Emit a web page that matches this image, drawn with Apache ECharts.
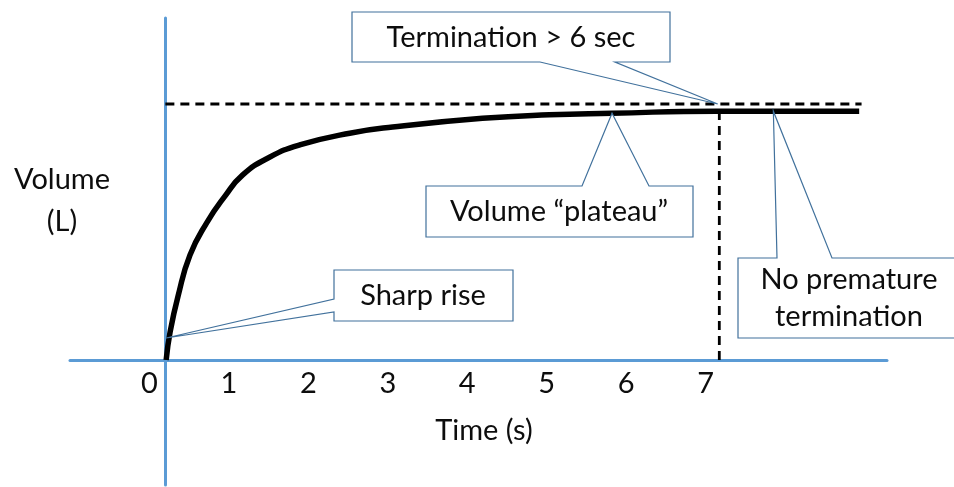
<!DOCTYPE html>
<html>
<head>
<meta charset="utf-8">
<script src="https://cdn.jsdelivr.net/npm/echarts@6/dist/echarts.min.js"></script>
<style>
html,body{margin:0;padding:0;background:#fff;}
#chart{width:954px;height:487px;}
</style>
</head>
<body>
<div id="chart"></div>
<script>
// ---- data ----
var tickValues = [0, 1, 2, 3, 4, 5, 6, 7];
var curveTime = [0.01, 0.06, 0.16, 0.31, 0.52, 0.75, 0.97, 1.31, 1.69, 2.32, 2.86, 3.99, 4.83, 5.62, 6.93, 8.73];
var curveVolume = [0, 0.55, 1.25, 2.05, 2.68, 3.2, 3.61, 3.96, 4.2, 4.43, 4.55, 4.72, 4.79, 4.82, 4.86, 4.86];
var refVolume = 5.0;
var refEndTime = 8.76;
var terminationTime = 6.97;
var terminationTop = 4.86;
var calloutTexts = ['Termination > 6 sec', 'Volume \u201cplateau\u201d', 'Sharp rise', 'No premature\ntermination'];
var calloutTipTime = [6.95, 5.62, 0.01, 7.65];
var calloutTipVolume = [5.0, 4.82, 0.43, 4.86];
var xTitle = 'Time (s)';
var yTitleLines = ['Volume', '(L)'];

// ---- layout / style ----
var FONT = 'Lato';
var FS = 29;
var AXIS_BLUE = '#5B9BD5';
var CALLOUT_BLUE = '#41719C';
var TEXT = '#0d0d0d';
var X_MIN = -1.2, X_MAX = 9.08;
// box [x0,y0,x1,y1], pointer edge, base1, base2
var calloutBoxes = [
  {box: [352, 12, 670, 62], edge: 'bottom', b: [540, 615], text: [511, 38]},
  {box: [426, 186, 693, 237], edge: 'top', b: [582, 649], text: [559, 212]},
  {box: [334, 270, 513, 321], edge: 'left', b: [299, 312], text: [423, 296]},
  {box: [738, 258, 975, 338], edge: 'top', b: [777, 832], text: [849, 298]}
];

var chart = echarts.init(document.getElementById('chart'), null, {renderer: 'canvas'});

var curveData = curveTime.map(function (t, i) { return [t, curveVolume[i]]; });
var hiddenLine = {show: false};

chart.setOption({
  animation: false,
  backgroundColor: '#fff',
  grid: [
    {left: 70, right: 67, top: 18, bottom: 127, containLabel: false, outerBoundsMode: 'none'},
    {left: 70, right: 67, top: 360, bottom: 2, containLabel: false, outerBoundsMode: 'none'}
  ],
  xAxis: [
    {
      gridIndex: 0, type: 'value', min: X_MIN, max: X_MAX, position: 'bottom',
      axisLine: {show: true, onZero: false, lineStyle: {color: AXIS_BLUE, width: 3}},
      axisTick: {show: false},
      splitLine: {show: false},
      axisLabel: {
        show: true, customValues: tickValues, margin: 9,
        formatter: function (v) { return '{a|' + v + '}'; },
        rich: {a: {fontFamily: FONT, fontSize: FS, color: TEXT, padding: [0, 32, 0, 0]}}
      }
    },
    {
      gridIndex: 1, type: 'value', min: X_MIN, max: X_MAX, show: true,
      axisLine: hiddenLine, axisTick: hiddenLine, axisLabel: hiddenLine, splitLine: hiddenLine
    }
  ],
  yAxis: [
    {
      gridIndex: 0, type: 'value', min: 0, max: 6.68,
      axisLine: {show: true, onZero: true, lineStyle: {color: AXIS_BLUE, width: 3}},
      axisTick: {show: false}, splitLine: {show: false}, axisLabel: {show: false}
    },
    {
      gridIndex: 1, type: 'value', min: -1, max: 0,
      axisLine: {show: true, onZero: true, lineStyle: {color: AXIS_BLUE, width: 3}},
      axisTick: {show: false}, splitLine: {show: false}, axisLabel: {show: false}
    }
  ],
  series: [
    {
      type: 'line', data: curveData, smooth: 0.5, showSymbol: false, z: 3,
      lineStyle: {color: '#000', width: 5.5}
    },
    {
      type: 'line', data: [[0, refVolume], [refEndTime, refVolume]], showSymbol: false, z: 2,
      lineStyle: {color: '#000', width: 2.8, type: [9, 6]}
    },
    {
      type: 'line', data: [[terminationTime, 0], [terminationTime, terminationTop]], showSymbol: false, z: 2,
      lineStyle: {color: '#000', width: 2.8, type: [9, 6]}
    }
  ]
});

function calloutPoints(c, tip) {
  var x0 = c.box[0], y0 = c.box[1], x1 = c.box[2], y1 = c.box[3];
  var p = [[x0, y0]];
  if (c.edge === 'top') { p.push([c.b[0], y0], tip, [c.b[1], y0]); }
  p.push([x1, y0], [x1, y1]);
  if (c.edge === 'bottom') { p.push([c.b[1], y1], tip, [c.b[0], y1]); }
  p.push([x0, y1]);
  if (c.edge === 'left') { p.push([x0, c.b[1]], tip, [x0, c.b[0]]); }
  return p;
}

var graphics = [];
calloutBoxes.forEach(function (c, i) {
  var tip = chart.convertToPixel({gridIndex: 0}, [calloutTipTime[i], calloutTipVolume[i]]);
  graphics.push({
    type: 'polygon', z: 10,
    shape: {points: calloutPoints(c, tip)},
    style: {fill: '#fff', stroke: CALLOUT_BLUE, lineWidth: 1.2}
  });
  graphics.push({
    type: 'text', z: 11, x: c.text[0], y: c.text[1],
    style: {text: calloutTexts[i], font: FS + 'px ' + FONT, fill: TEXT, align: 'center', verticalAlign: 'middle', lineHeight: 37}
  });
});
graphics.push({
  type: 'text', x: 484, y: 431,
  style: {text: xTitle, font: FS + 'px ' + FONT, fill: TEXT, align: 'center', verticalAlign: 'middle'}
});
graphics.push({
  type: 'text', x: 62, y: 180,
  style: {text: yTitleLines[0], font: FS + 'px ' + FONT, fill: TEXT, align: 'center', verticalAlign: 'middle'}
});
graphics.push({
  type: 'text', x: 62, y: 222,
  style: {text: yTitleLines[1], font: FS + 'px ' + FONT, fill: TEXT, align: 'center', verticalAlign: 'middle'}
});
chart.setOption({graphic: graphics});
</script>
</body>
</html>
